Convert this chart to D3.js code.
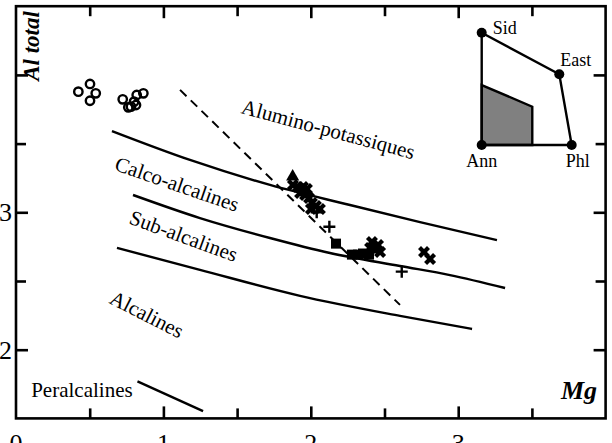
<!DOCTYPE html>
<html><head><meta charset="utf-8">
<script src="https://cdn.jsdelivr.net/npm/d3@7/dist/d3.min.js"></script>
<style>
html,body{margin:0;padding:0;background:#fff;}
svg{display:block;}
text{font-family:"Liberation Serif","Times New Roman",serif;fill:#000;}
</style></head>
<body>
<script>
// ---------- data ----------
const xDomain = [0, 4];
const yDomain = [1.5, 4.5];
const xTickLabels = [0, 1, 2, 3];
const yTickLabels = [2, 3];
const tickValuesX = [0.5, 1, 1.5, 2, 2.5, 3, 3.5];
const tickValuesY = [2, 2.5, 3, 3.5, 4];

// boundary curves [Mg, Al total]
const lineAluminoCalco = [[0.651,3.591],[1.180,3.381],[1.723,3.199],[2.266,3.053],[2.741,2.929],[3.263,2.798]];
const lineCalcoSub = [[0.794,3.126],[1.248,2.958],[1.723,2.813],[2.130,2.704],[2.605,2.609],[2.944,2.543],[3.318,2.449]];
const lineSubAlcalines = [[0.685,2.741],[1.248,2.581],[1.927,2.392],[2.605,2.246],[3.094,2.151]];
const linePeralcalines = [[0.824,1.770],[1.269,1.553]];
const lineDashed = [[1.113,3.891],[2.605,2.326]];

// samples
const openCircles = [[0.423,3.878],[0.502,3.934],[0.541,3.866],[0.502,3.812],
  [0.724,3.822],[0.819,3.854],[0.864,3.866],[0.780,3.769],[0.814,3.781],[0.801,3.805],[0.762,3.764]];
const triangles = [[1.877,3.259]];
const crossesX = [[1.879,3.199],[1.913,3.185],[1.947,3.185],[1.974,3.170],[1.927,3.141],[1.961,3.126],
  [1.988,3.104],[2.008,3.068],[2.035,3.046],[2.062,3.024],[2.001,3.024],
  [2.415,2.784],[2.456,2.762],[2.436,2.726],[2.470,2.711],[2.402,2.740],
  [2.768,2.711],[2.809,2.660]];
const plusSigns = [[2.126,2.895],[2.617,2.568],[2.040,3.000]];
const squares = [[2.171,2.772],[2.279,2.692],[2.320,2.692],[2.354,2.700],[2.395,2.692]];

// field labels
const fieldLabels = [
  {text:"Alumino-potassiques", x:1.522, y:3.722, angle:15},
  {text:"Calco-alcalines", x:0.662, y:3.310, angle:19},
  {text:"Sub-alcalines", x:0.760, y:2.920, angle:20},
  {text:"Alcalines", x:0.626, y:2.342, angle:27},
  {text:"Peralcalines", x:0.103, y:1.654, angle:0}
];

// inset (Ann-Phl-East-Sid diagram)
const insetVertices = [
  {name:"Sid", u:0, v:1},
  {name:"East", u:0.862, v:0.630},
  {name:"Phl", u:1, v:0},
  {name:"Ann", u:0, v:0}
];
const insetField = [[0,0],[0,0.534],[0.562,0.341],[0.562,0]];

// ---------- drawing ----------
const W = 612, H = 443;
const svg = d3.select("body").append("svg").attr("width", W).attr("height", H);
const x = d3.scaleLinear().domain(xDomain).range([16, 605.6]);
const y = d3.scaleLinear().domain(yDomain).range([418.4, 6.2]);

// frame
svg.append("rect").attr("x", x(0)).attr("y", y(4.5))
  .attr("width", x(4)-x(0)).attr("height", y(1.5)-y(4.5))
  .attr("fill","none").attr("stroke","#000").attr("stroke-width",2.6);

// ticks via axes (inward)
function styleAxis(g){
  g.select(".domain").remove();
  g.selectAll(".tick line").attr("stroke","#000").attr("stroke-width",2.6);
  g.selectAll(".tick text").remove();
}
const tl = v => (Number.isInteger(v) ? 12 : 10);
svg.append("g").attr("transform",`translate(0,${y(1.5)})`)
  .call(d3.axisBottom(x).tickValues(tickValuesX).tickSize(0)).call(styleAxis)
  .selectAll(".tick line").attr("y2", d => -tl(d));
svg.append("g").attr("transform",`translate(0,${y(4.5)})`)
  .call(d3.axisTop(x).tickValues(tickValuesX).tickSize(0)).call(styleAxis)
  .selectAll(".tick line").attr("y2", d => tl(d));
svg.append("g").attr("transform",`translate(${x(0)},0)`)
  .call(d3.axisLeft(y).tickValues(tickValuesY).tickSize(0)).call(styleAxis)
  .selectAll(".tick line").attr("x2", d => tl(d));
svg.append("g").attr("transform",`translate(${x(4)},0)`)
  .call(d3.axisRight(y).tickValues(tickValuesY).tickSize(0)).call(styleAxis)
  .selectAll(".tick line").attr("x2", d => -tl(d));

// tick labels
svg.selectAll("text.xl").data(xTickLabels).enter().append("text")
  .attr("x", d => x(d)).attr("y", 452).attr("text-anchor","middle")
  .attr("font-size",26).text(d => d);
svg.selectAll("text.yl").data(yTickLabels).enter().append("text")
  .attr("x", 12).attr("y", d => y(d)+9).attr("text-anchor","end")
  .attr("font-size",26).text(d => d);

// axis titles
svg.append("text").attr("transform",`translate(39,46) rotate(-90)`)
  .attr("text-anchor","middle").attr("font-size",23)
  .attr("font-weight","bold").attr("font-style","italic").text("Al total");
svg.append("text").attr("x",597).attr("y",399).attr("text-anchor","end")
  .attr("font-size",26).attr("font-weight","bold").attr("font-style","italic").text("Mg");

// curves
const line = d3.line().x(d => x(d[0])).y(d => y(d[1])).curve(d3.curveMonotoneX);
[lineAluminoCalco, lineCalcoSub, lineSubAlcalines, linePeralcalines].forEach(l => {
  svg.append("path").attr("d", line(l)).attr("fill","none")
    .attr("stroke","#000").attr("stroke-width",2.4);
});
svg.append("path").attr("d", d3.line().x(d=>x(d[0])).y(d=>y(d[1]))(lineDashed))
  .attr("fill","none").attr("stroke","#000").attr("stroke-width",2)
  .attr("stroke-dasharray","9,6");

// field labels
fieldLabels.forEach(f => {
  svg.append("text").attr("transform",`translate(${x(f.x)},${y(f.y)}) rotate(${f.angle})`)
    .attr("font-size",21).text(f.text);
});

// markers
svg.selectAll("circle.oc").data(openCircles).enter().append("circle")
  .attr("cx", d=>x(d[0])).attr("cy", d=>y(d[1])).attr("r",4.2)
  .attr("fill","none").attr("stroke","#000").attr("stroke-width",2.4);
svg.selectAll("path.tri").data(triangles).enter().append("path")
  .attr("transform", d=>`translate(${x(d[0])},${y(d[1])})`)
  .attr("d", d3.symbol().type(d3.symbolTriangle).size(75)).attr("fill","#000");
svg.selectAll("path.xx").data(crossesX).enter().append("path")
  .attr("transform", d=>`translate(${x(d[0])},${y(d[1])}) rotate(45)`)
  .attr("d", d3.symbol().type(d3.symbolCross).size(90)).attr("fill","#000");
svg.selectAll("path.pl").data(plusSigns).enter().append("path")
  .attr("transform", d=>`translate(${x(d[0])},${y(d[1])})`)
  .attr("d", "M-6,0H6M0,-6V6").attr("stroke","#000").attr("stroke-width",2.4);
svg.selectAll("rect.sq").data(squares).enter().append("rect")
  .attr("x", d=>x(d[0])-5).attr("y", d=>y(d[1])-5).attr("width",10).attr("height",10)
  .attr("fill","#000");

// inset
const ix = d3.scaleLinear().domain([0,1]).range([481.7, 571.7]);
const iy = d3.scaleLinear().domain([0,1]).range([145, 32.7]);
const ig = svg.append("g");
ig.append("path").attr("d", d3.line().x(d=>ix(d[0])).y(d=>iy(d[1]))(insetField)+"Z")
  .attr("fill","#808080").attr("stroke","#000").attr("stroke-width",2.4);
ig.append("path").attr("d", d3.line().x(d=>ix(d.u)).y(d=>iy(d.v))(insetVertices)+"Z")
  .attr("fill","none").attr("stroke","#000").attr("stroke-width",2.4);
ig.selectAll("circle").data(insetVertices).enter().append("circle")
  .attr("cx", d=>ix(d.u)).attr("cy", d=>iy(d.v)).attr("r",5).attr("fill","#000");
const insetLabelPos = {Sid:[11,1,"start"], East:[1,-8,"start"], Phl:[6,22,"middle"], Ann:[0,22,"middle"]};
ig.selectAll("text").data(insetVertices).enter().append("text")
  .attr("x", d=>ix(d.u)+insetLabelPos[d.name][0]).attr("y", d=>iy(d.v)+insetLabelPos[d.name][1])
  .attr("text-anchor", d=>insetLabelPos[d.name][2]).attr("font-size",18).text(d=>d.name);
</script>
</body></html>
